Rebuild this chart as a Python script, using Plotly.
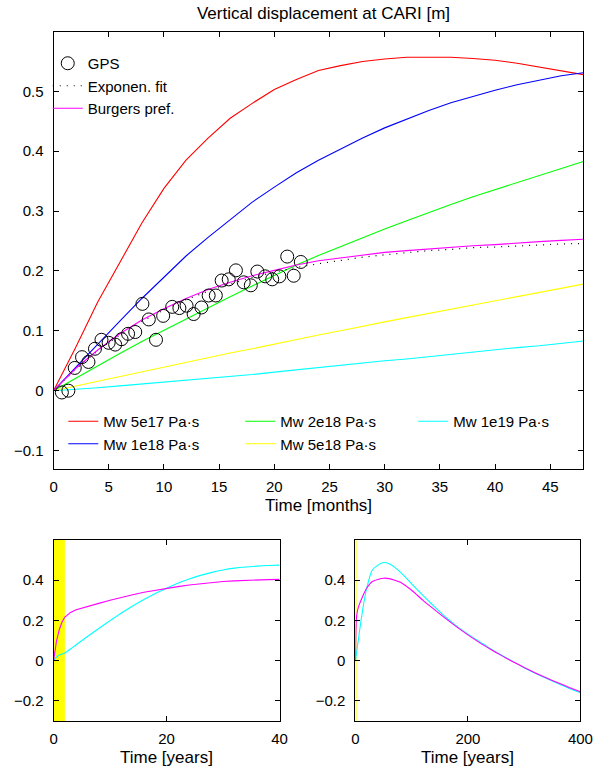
import plotly.graph_objects as go

# ---------------- data ----------------
gps_months = [0.75, 1.34, 1.92, 2.58, 3.16, 3.75, 4.34, 4.99, 5.58, 6.16, 6.75, 7.40,
              8.05, 8.63, 9.28, 9.93, 10.75, 11.40, 12.05, 12.69, 13.40, 14.05, 14.70,
              15.23, 15.87, 16.52, 17.23, 17.87, 18.46, 19.17, 19.81, 20.46, 21.17,
              21.76, 22.40]
gps_disp = [-0.003, 0.000, 0.038, 0.056, 0.048, 0.070, 0.085, 0.080, 0.077, 0.086,
            0.095, 0.098, 0.145, 0.119, 0.085, 0.125, 0.140, 0.138, 0.142, 0.128,
            0.139, 0.159, 0.159, 0.184, 0.186, 0.201, 0.181, 0.176, 0.199, 0.191,
            0.186, 0.191, 0.224, 0.192, 0.215]

model_months = [0, 2, 4, 6, 8, 10, 12, 14, 16, 18, 20, 22, 24, 26, 28, 30, 32, 34, 36,
                38, 40, 42, 44, 46, 48]
mw_5e17 = [0, 0.072, 0.148, 0.215, 0.280, 0.338, 0.385, 0.422, 0.455, 0.480, 0.503,
           0.520, 0.535, 0.543, 0.550, 0.554, 0.557, 0.557, 0.557, 0.555, 0.552,
           0.547, 0.541, 0.535, 0.528]
mw_1e18 = [0, 0.039, 0.078, 0.116, 0.154, 0.190, 0.225, 0.256, 0.286, 0.315, 0.340,
           0.364, 0.385, 0.404, 0.422, 0.439, 0.454, 0.468, 0.481, 0.492, 0.502,
           0.511, 0.519, 0.526, 0.531]
mw_2e18 = [0, 0.021, 0.042, 0.062, 0.082, 0.101, 0.120, 0.139, 0.157, 0.175, 0.193,
           0.210, 0.226, 0.241, 0.256, 0.270, 0.284, 0.298, 0.311, 0.324, 0.336,
           0.348, 0.360, 0.372, 0.383]
mw_5e18 = [0, 0.008, 0.016, 0.024, 0.032, 0.040, 0.047, 0.055, 0.063, 0.070, 0.078,
           0.086, 0.093, 0.100, 0.108, 0.115, 0.122, 0.129, 0.136, 0.143, 0.150,
           0.157, 0.164, 0.171, 0.178]
mw_1e19 = [0, 0.002, 0.005, 0.008, 0.011, 0.014, 0.017, 0.020, 0.024, 0.027, 0.031,
           0.035, 0.038, 0.042, 0.046, 0.050, 0.053, 0.057, 0.061, 0.064, 0.068,
           0.072, 0.075, 0.079, 0.083]
exp_fit = [0, 0.036, 0.067, 0.093, 0.116, 0.135, 0.152, 0.166, 0.178, 0.189, 0.198,
           0.206, 0.212, 0.218, 0.223, 0.227, 0.231, 0.234, 0.236, 0.239, 0.240,
           0.242, 0.244, 0.245, 0.246]
burgers = [0, 0.037, 0.068, 0.095, 0.118, 0.137, 0.154, 0.169, 0.181, 0.192, 0.201,
           0.210, 0.217, 0.222, 0.227, 0.231, 0.234, 0.237, 0.240, 0.242, 0.244,
           0.247, 0.249, 0.251, 0.253]

# 40-year view
years_a = [0, 0.5, 1, 1.5, 2, 3, 4, 6, 8, 10, 12, 14, 16, 18, 20, 22, 24, 26, 28, 30,
           32, 34, 36, 38, 40]
burgers_a = [0, 0.095, 0.154, 0.192, 0.217, 0.240, 0.253, 0.270, 0.285, 0.300, 0.315,
             0.328, 0.340, 0.350, 0.360, 0.368, 0.376, 0.383, 0.389, 0.394, 0.397,
             0.400, 0.402, 0.403, 0.404]
maxwell_a = [0, 0.017, 0.028, 0.033, 0.038, 0.058, 0.079, 0.120, 0.160, 0.199, 0.237,
             0.272, 0.304, 0.334, 0.360, 0.385, 0.406, 0.424, 0.439, 0.451, 0.460,
             0.466, 0.470, 0.473, 0.475]

# 400-year view
years_b = [0, 1, 2, 4, 7, 10, 15, 20, 30, 40, 50, 60, 70, 80, 100, 120, 140, 160, 180,
           200, 220, 240, 260, 280, 300, 320, 340, 360, 380, 400]
burgers_b = [0, 0.154, 0.217, 0.253, 0.280, 0.300, 0.333, 0.360, 0.394, 0.404, 0.410,
             0.408, 0.400, 0.390, 0.350, 0.300, 0.255, 0.210, 0.168, 0.128, 0.091,
             0.057, 0.025, -0.005, -0.034, -0.061, -0.086, -0.110, -0.133, -0.155]
maxwell_b = [0, 0.017, 0.038, 0.079, 0.140, 0.199, 0.288, 0.360, 0.451, 0.475, 0.488,
             0.482, 0.464, 0.440, 0.382, 0.325, 0.270, 0.217, 0.172, 0.132, 0.095,
             0.060, 0.027, -0.004, -0.035, -0.063, -0.089, -0.114, -0.138, -0.160]

gps_window_years = [0, 2]

top_yticks = [-0.1, 0, 0.1, 0.2, 0.3, 0.4, 0.5]
top_yticktext = ["\u22120.1", "0", "0.1", "0.2", "0.3", "0.4", "0.5"]
bot_yticks = [-0.2, 0, 0.2, 0.4]
bot_yticktext = ["\u22120.2", "0", "0.2", "0.4"]

# ---------------- figure ----------------
W, H = 608, 771
FONT = "Liberation Sans, Arial, sans-serif"

def px_x(p):
    return p / W

def px_y(p):
    return 1 - p / H

fig = go.Figure()

lw = 1.1
# Viscosity curves (top)
fig.add_trace(go.Scatter(x=model_months, y=mw_5e17, mode="lines", name="Mw 5e17 Pa\u00b7s",
                         line=dict(color="#ff0000", width=lw), legend="legend2"))
fig.add_trace(go.Scatter(x=model_months, y=mw_1e18, mode="lines", name="Mw 1e18 Pa\u00b7s",
                         line=dict(color="#0000ff", width=lw), legend="legend2"))
fig.add_trace(go.Scatter(x=model_months, y=mw_2e18, mode="lines", name="Mw 2e18 Pa\u00b7s",
                         line=dict(color="#00ff00", width=lw), legend="legend3"))
fig.add_trace(go.Scatter(x=model_months, y=mw_5e18, mode="lines", name="Mw 5e18 Pa\u00b7s",
                         line=dict(color="#ffff00", width=lw), legend="legend3"))
fig.add_trace(go.Scatter(x=model_months, y=mw_1e19, mode="lines", name="Mw 1e19 Pa\u00b7s",
                         line=dict(color="#00ffff", width=lw), legend="legend4"))
fig.add_trace(go.Scatter(x=model_months, y=exp_fit, mode="lines", name="Exponen. fit",
                         line=dict(color="black", width=1.2, dash="1px,6px"), legend="legend",
                         legendrank=2))
fig.add_trace(go.Scatter(x=model_months, y=burgers, mode="lines", name="Burgers pref.",
                         line=dict(color="#ff00ff", width=lw), legend="legend",
                         legendrank=3))
fig.add_trace(go.Scatter(x=gps_months, y=gps_disp, mode="markers", name="GPS",
                         marker=dict(symbol="circle-open", size=13, color="black",
                                     line=dict(width=1, color="black")),
                         legend="legend", legendrank=1))

# bottom-left
fig.add_trace(go.Scatter(x=years_a, y=maxwell_a, mode="lines", showlegend=False,
                         line=dict(color="#00ffff", width=lw, shape="spline", smoothing=0.6),
                         xaxis="x2", yaxis="y2"))
fig.add_trace(go.Scatter(x=years_a, y=burgers_a, mode="lines", showlegend=False,
                         line=dict(color="#ff00ff", width=lw), xaxis="x2", yaxis="y2"))
# bottom-right
fig.add_trace(go.Scatter(x=years_b, y=maxwell_b, mode="lines", showlegend=False,
                         line=dict(color="#00ffff", width=lw, shape="spline", smoothing=0.6),
                         xaxis="x3", yaxis="y3"))
fig.add_trace(go.Scatter(x=years_b, y=burgers_b, mode="lines", showlegend=False,
                         line=dict(color="#ff00ff", width=lw, shape="spline", smoothing=0.4),
                         xaxis="x3", yaxis="y3"))

# yellow GPS window bands
for xr, yr in (("x2", "y2 domain"), ("x3", "y3 domain")):
    fig.add_shape(type="rect", xref=xr, yref=yr, x0=gps_window_years[0], x1=gps_window_years[1],
                  y0=0, y1=1, fillcolor="#ffff00", line=dict(width=0), layer="below")

axis_common = dict(showline=True, linecolor="black", linewidth=1, mirror="ticks",
                   ticks="inside", ticklen=5, tickcolor="black", showgrid=False,
                   zeroline=False, tickfont=dict(size=15, color="black", family=FONT))
xa = dict(ticklabelstandoff=4, **axis_common)
ya = dict(ticklabelstandoff=6, **axis_common)

fig.update_layout(
    width=W, height=H, autosize=False, margin=dict(l=0, r=0, t=0, b=0),
    paper_bgcolor="white", plot_bgcolor="white",
    font=dict(family=FONT, color="black"),
    xaxis=dict(domain=[px_x(51), px_x(596)], range=[0, 48],
               tickvals=[0, 5, 10, 15, 20, 25, 30, 35, 40, 45], anchor="y", **xa),
    yaxis=dict(domain=[px_y(468.5), px_y(31.5)], range=[-0.13, 0.6],
               tickvals=top_yticks, ticktext=top_yticktext, anchor="x", **ya),
    xaxis2=dict(domain=[px_x(51), px_x(283.5)], range=[0, 40], tickvals=[0, 20, 40],
                anchor="y2", **xa),
    yaxis2=dict(domain=[px_y(721), px_y(540)], range=[-0.3, 0.6],
                tickvals=bot_yticks, ticktext=bot_yticktext, anchor="x2", **ya),
    xaxis3=dict(domain=[px_x(361.5), px_x(593)], range=[0, 400], tickvals=[0, 200, 400],
                anchor="y3", **xa),
    yaxis3=dict(domain=[px_y(721), px_y(540)], range=[-0.3, 0.6],
                tickvals=bot_yticks, ticktext=bot_yticktext, anchor="x3", **ya),
    title=dict(text="Vertical displacement at CARI [m]", x=px_x(323.5), xanchor="center",
               y=px_y(13), yanchor="middle", font=dict(size=17, family=FONT, color="black")),
    showlegend=True,
)

leg_common = dict(bgcolor="rgba(0,0,0,0)", borderwidth=0, xanchor="left", yanchor="top",
                  font=dict(size=15, family=FONT, color="black"), tracegroupgap=0,
                  itemwidth=30)
fig.update_layout(
    legend=dict(x=px_x(45), y=px_y(47), **leg_common),
    legend2=dict(x=px_x(61), y=px_y(405), **leg_common),
    legend3=dict(x=px_x(243), y=px_y(405), **leg_common),
    legend4=dict(x=px_x(421), y=px_y(405), **leg_common),
)

# axis titles
for txt, xc, yc in (("Time [months]", 323.5, 505), ("Time [years]", 167, 757),
                    ("Time [years]", 477, 757)):
    fig.add_annotation(text=txt, x=px_x(xc), y=px_y(yc), xref="paper", yref="paper",
                       xanchor="center", yanchor="middle", showarrow=False,
                       font=dict(size=17, family=FONT, color="black"))

post = ("document.documentElement.style.overflow='hidden';"
        "document.body.style.margin='0';document.body.style.overflow='hidden';"
        "var gd=document.getElementById('{plot_id}');"
        "Plotly.relayout(gd,{width:608,height:771});")
fig.write_html("out.html", post_script=post,
               config={"displayModeBar": False, "responsive": False})
